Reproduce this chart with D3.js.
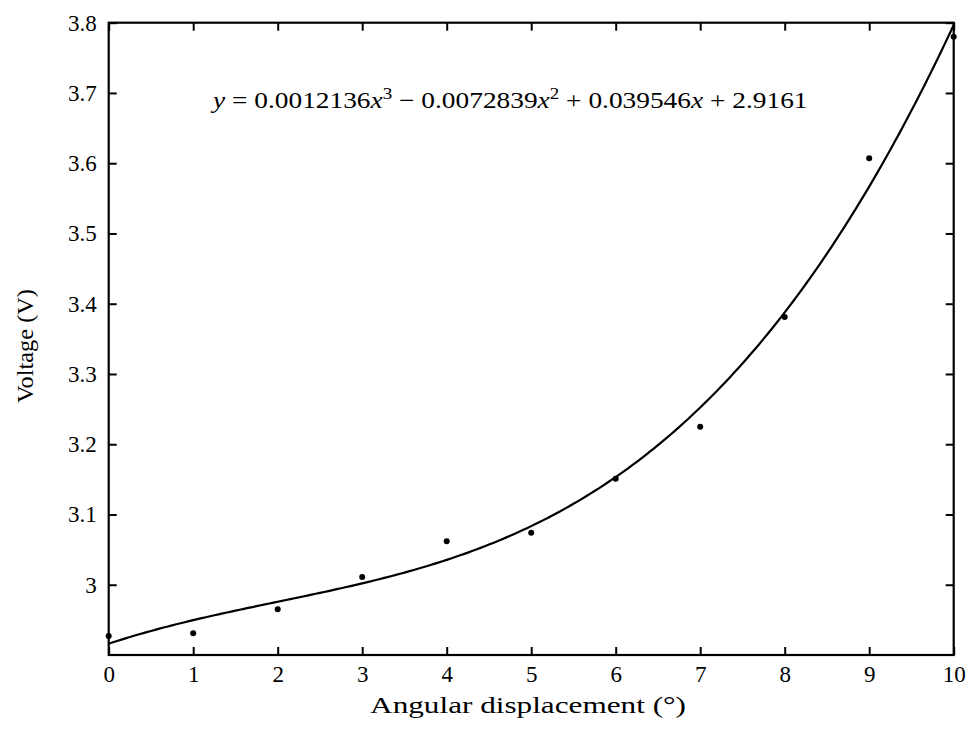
<!DOCTYPE html>
<html>
<head>
<meta charset="utf-8">
<script src="https://cdn.jsdelivr.net/npm/d3@7"></script>
<style>
  html, body { margin: 0; padding: 0; background: #fff; }
  svg { display: block; }
</style>
</head>
<body>
<svg id="chart" width="971" height="734"></svg>
<script>
// Measured voltage at each angular displacement
const displacement = [0, 1, 2, 3, 4, 5, 6, 7, 8, 9, 10];
const voltage = [2.927, 2.931, 2.965, 3.011, 3.062, 3.074, 3.151, 3.225, 3.381, 3.607, 3.780];

// Cubic fit coefficients (highest power first)
const fitCoefficients = [0.0012136, -0.0072839, 0.039546, 2.9161];

const xTicks = [0, 1, 2, 3, 4, 5, 6, 7, 8, 9, 10];
const yTicks = [3.0, 3.1, 3.2, 3.3, 3.4, 3.5, 3.6, 3.7, 3.8];
const yTickLabels = ["3", "3.1", "3.2", "3.3", "3.4", "3.5", "3.6", "3.7", "3.8"];

const FONT = '"Liberation Serif", "Times New Roman", serif';
const W = 971, H = 734;
const margin = { left: 108.7, right: W - 953.7, top: 22.7, bottom: H - 655 };
const svg = d3.select("#chart").style("font-family", FONT);

const x = d3.scaleLinear().domain([0, 10]).range([margin.left, W - margin.right]);
const y = d3.scaleLinear().domain([2.9, 3.8]).range([H - margin.bottom, margin.top]);

const tickLen = 8;
const fontSize = 23;

// Fitted cubic, sampled finely along the x range
const fit = v => fitCoefficients.reduce((acc, c) => acc * v + c, 0);
const curveX = d3.range(0, 10.0001, 0.05);
const line = d3.line().x(d => x(d)).y(d => y(fit(d)));

svg.append("path")
  .attr("d", line(curveX))
  .attr("fill", "none")
  .attr("stroke", "#000")
  .attr("stroke-width", 2.2);

// Data points
svg.append("g").selectAll("circle")
  .data(displacement.map((d, i) => [d, voltage[i]]))
  .join("circle")
  .attr("cx", d => x(d[0]))
  .attr("cy", d => y(d[1]))
  .attr("r", 3)
  .attr("fill", "#000");

// Axes: ticks pointing inward on all four sides
const axisB = d3.axisBottom(x).tickValues(xTicks).tickSizeInner(-tickLen).tickSizeOuter(0).tickPadding(11).tickFormat(d3.format("d"));
const axisT = d3.axisTop(x).tickValues(xTicks).tickSizeInner(-tickLen).tickSizeOuter(0).tickFormat("");
const axisL = d3.axisLeft(y).tickValues(yTicks).tickSizeInner(-tickLen).tickSizeOuter(0).tickPadding(12).tickFormat((d, i) => yTickLabels[i]);
const axisR = d3.axisRight(y).tickValues(yTicks).tickSizeInner(-tickLen).tickSizeOuter(0).tickFormat("");

function styleAxis(g) {
  g.attr("font-family", null).attr("font-size", null);
  g.selectAll(".domain").remove();
  g.selectAll(".tick line").attr("stroke", "#000").attr("stroke-width", 2);
  g.selectAll(".tick text")
    .style("font-family", FONT)
    .style("font-size", fontSize + "px")
    .attr("fill", "#000");
}

svg.append("g").attr("transform", `translate(0,${y(2.9)})`).call(axisB).call(styleAxis);
svg.append("g").attr("transform", `translate(0,${y(3.8)})`).call(axisT).call(styleAxis);
svg.append("g").attr("transform", `translate(${x(0)},0)`).call(axisL).call(styleAxis);
svg.append("g").attr("transform", `translate(${x(10)},0)`).call(axisR).call(styleAxis);

// Box frame
svg.append("rect")
  .attr("x", x(0)).attr("y", y(3.8))
  .attr("width", x(10) - x(0)).attr("height", y(2.9) - y(3.8))
  .attr("fill", "none").attr("stroke", "#000").attr("stroke-width", 2.2);

// Horizontal stretch factor so a label spans the given width (wide serif setting)
function stretch(textSel, width) {
  return width / textSel.node().getComputedTextLength();
}

// x-axis label
const xLabG = svg.append("g");
const xLab = xLabG.append("text")
  .attr("text-anchor", "middle")
  .style("font-family", FONT)
  .style("font-size", fontSize + "px")
  .attr("fill", "#000")
  .text("Angular displacement (°)");
xLabG.attr("transform", `translate(528,713) scale(${stretch(xLab, 316)},1)`);

// y-axis label
const yLabG = svg.append("g");
const yLab = yLabG.append("text")
  .attr("text-anchor", "middle")
  .style("font-family", FONT)
  .style("font-size", fontSize + "px")
  .attr("fill", "#000")
  .text("Voltage (V)");
yLabG.attr("transform", `translate(33,346) rotate(-90) scale(${stretch(yLab, 114)},1)`);

// Fit equation
const eqG = svg.append("g");
const eq = eqG.append("text")
  .attr("x", 0).attr("y", 0)
  .style("font-family", FONT)
  .style("font-size", fontSize + "px")
  .attr("fill", "#000");
eq.append("tspan").style("font-style", "italic").text("y");
eq.append("tspan").text(" = 0.0012136");
eq.append("tspan").style("font-style", "italic").text("x");
eq.append("tspan").attr("dy", -9).style("font-size", "16px").text("3");
eq.append("tspan").attr("dy", 9).text(" − 0.0072839");
eq.append("tspan").style("font-style", "italic").text("x");
eq.append("tspan").attr("dy", -9).style("font-size", "16px").text("2");
eq.append("tspan").attr("dy", 9).text(" + 0.039546");
eq.append("tspan").style("font-style", "italic").text("x");
eq.append("tspan").text(" + 2.9161");
eqG.attr("transform", `translate(213,108) scale(${stretch(eq, 595)},1)`);
</script>
</body>
</html>
